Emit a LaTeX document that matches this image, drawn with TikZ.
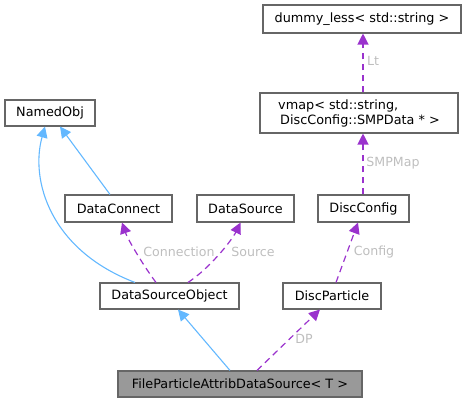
\documentclass[tikz,border=0pt]{standalone}
\usepackage{fontspec}
\setmainfont{DejaVu Sans}
\usetikzlibrary{arrows.meta}
\definecolor{boxline}{HTML}{666666}
\definecolor{mainfill}{HTML}{999999}
\definecolor{inhblue}{HTML}{63B8FF}
\definecolor{usepurple}{HTML}{9A32CD}
\definecolor{lblgray}{HTML}{BEBEBE}
\begin{document}
\begin{tikzpicture}[x=1pt, y=-1pt,
	mybox/.style={draw=boxline, line width=1.1pt, fill=white, minimum height=26pt, minimum width=#1, inner sep=2pt, font=\fontsize{12.8}{15}\selectfont},
	inherit/.style={draw=inhblue, line width=1.1pt, -{Triangle[length=11pt, width=11pt]}},
	uses/.style={draw=usepurple, line width=1.2pt, dash pattern=on 6.5pt off 4.5pt, -{Triangle[length=11pt, width=11pt]}},
	mylabel/.style={text=lblgray, inner sep=0pt, font=\fontsize{12.6}{15}\selectfont}]
				\useasboundingbox (0,0) rectangle (469,403);
				% classes
				\node[mybox=198pt, minimum height=28pt] (dummy) at (362,19) {dummy\_less< std::string >};
				\node[mybox=198pt, minimum height=40pt, align=left] (vmap) at (359,113) {vmap< std::string,\\\hspace{2pt}DiscConfig::SMPData * >};
				\node[mybox=90pt] (named) at (50,113) {NamedObj};
				\node[mybox=107pt, minimum height=27pt] (connect) at (118.5,208.5) {DataConnect};
				\node[mybox=97pt, minimum height=27pt] (source) at (245.5,208.5) {DataSource};
				\node[mybox=91pt, minimum height=27pt] (config) at (363.5,208.5) {DiscConfig};
				\node[mybox=139pt] (dsobj) at (169.5,296) {DataSourceObject};
				\node[mybox=98pt] (particle) at (332,296) {DiscParticle};
				\node[mybox=244pt, fill=mainfill] (fpads) at (240,384) {FileParticleAttribDataSource< T >};
				% inheritance
				\draw[inherit] ([xshift=-8.5pt]connect.north) -- ([xshift=10pt]named.south);
				\draw[inherit] ([xshift=-34.5pt]dsobj.north) .. controls (50,250) and (30,180) .. ([xshift=-5pt]named.south);
				\draw[inherit] ([xshift=-10pt]fpads.north) -- ([xshift=8.5pt]dsobj.south);
				% usage
				\draw[uses] ([xshift=17pt]fpads.north) -- ([xshift=-12pt]particle.south);
				\draw[uses] ([xshift=-13.5pt]dsobj.north) .. controls (145,268) and (128,240) .. ([xshift=3.5pt]connect.south);
				\draw[uses] ([xshift=18.5pt]dsobj.north) .. controls (210,268) and (232,240) .. ([xshift=-5pt]source.south);
				\draw[uses] ([xshift=4pt]particle.north) -- ([xshift=-5.5pt]config.south);
				\draw[uses] ([xshift=-0.5pt]config.north) -- ([xshift=4pt]vmap.south);
				\draw[uses] ([xshift=4pt]vmap.north) -- ([xshift=1pt]dummy.south);
				% member names
				\node[mylabel] (lconn) at (179,252) {Connection};
				\node[mylabel] (lsrc) at (253,252) {Source};
				\node[mylabel] (lcfg) at (374,252) {Config};
				\node[mylabel] (lsmp) at (393,163) {SMPMap};
				\node[mylabel] (llt) at (373,61) {Lt};
				\node[mylabel] (ldp) at (304,339) {DP};
				\end{tikzpicture}
\end{document}
